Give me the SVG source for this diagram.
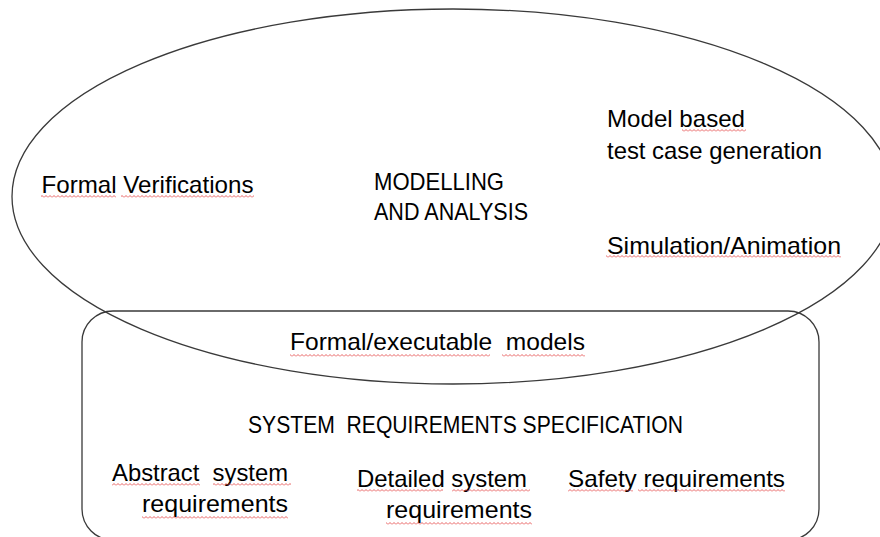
<svg xmlns="http://www.w3.org/2000/svg" width="880" height="537" viewBox="0 0 880 537">
<defs>
<style>
.shape{fill:none;stroke:#3a3a3a;stroke-width:1.3}
text{font-family:"Liberation Sans",Arial,sans-serif;font-size:24px;fill:#000;white-space:pre}
.sq{fill:url(#squig)}
</style>
<pattern id="squig" patternUnits="userSpaceOnUse" width="4" height="3">
<path d="M0,2.5 L2,0.5 L4,2.5" fill="none" stroke="#e23a3a" stroke-width="0.8"/>
</pattern>
</defs>
<rect width="880" height="537" fill="#fff"/>
<g id="modelling-analysis">
<ellipse class="shape" cx="453" cy="196.5" rx="441" ry="187.5"/>
<text x="41.5" y="193" textLength="212" lengthAdjust="spacingAndGlyphs">Formal Verifications</text>
<rect class="sq" x="41" y="195" width="75" height="3"/>
<rect class="sq" x="121" y="195" width="133" height="3"/>
<text x="374" y="190" textLength="130" lengthAdjust="spacingAndGlyphs">MODELLING</text>
<text x="374" y="220" textLength="154" lengthAdjust="spacingAndGlyphs">AND ANALYSIS</text>
<text x="607" y="126.5" textLength="138" lengthAdjust="spacingAndGlyphs">Model based</text>
<rect class="sq" x="682" y="129" width="64" height="3"/>
<text x="607" y="158.5" textLength="215" lengthAdjust="spacingAndGlyphs">test case generation</text>
<text x="607" y="254" textLength="234" lengthAdjust="spacingAndGlyphs">Simulation/Animation</text>
<rect class="sq" x="606" y="255" width="235" height="3"/>
</g>
<g id="system-requirements">
<rect class="shape" x="82" y="311" width="737" height="229" rx="31" ry="31"/>
<text x="290" y="350" textLength="295" lengthAdjust="spacingAndGlyphs">Formal/executable  models</text>
<rect class="sq" x="290" y="354" width="200" height="3"/>
<rect class="sq" x="502" y="354" width="83" height="3"/>
<text x="248" y="433" textLength="435" lengthAdjust="spacingAndGlyphs">SYSTEM  REQUIREMENTS SPECIFICATION</text>
<text x="112" y="481" textLength="176" lengthAdjust="spacingAndGlyphs">Abstract  system</text>
<rect class="sq" x="112" y="483" width="88" height="3"/>
<rect class="sq" x="213" y="483" width="78" height="3"/>
<text x="142" y="512" textLength="146" lengthAdjust="spacingAndGlyphs">requirements</text>
<rect class="sq" x="142" y="516" width="146" height="3"/>
<text x="357" y="487" textLength="170" lengthAdjust="spacingAndGlyphs">Detailed system</text>
<rect class="sq" x="357" y="489" width="86" height="3"/>
<rect class="sq" x="452" y="489" width="78" height="3"/>
<text x="386" y="518" textLength="146" lengthAdjust="spacingAndGlyphs">requirements</text>
<rect class="sq" x="386" y="522" width="146" height="3"/>
<text x="568" y="487" textLength="217" lengthAdjust="spacingAndGlyphs">Safety requirements</text>
<rect class="sq" x="568" y="489" width="65" height="3"/>
<rect class="sq" x="638" y="489" width="147" height="3"/>
</g>
<g id="connectors"/>
</svg>
